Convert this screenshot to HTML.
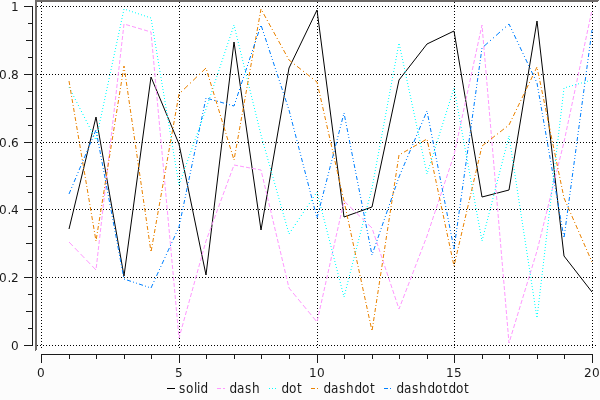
<!DOCTYPE html>
<html><head><meta charset="utf-8"><title>plot</title>
<style>
html,body{margin:0;padding:0;background:#fcfcfc;}
body{width:600px;height:400px;overflow:hidden;}
svg{display:block;position:absolute;left:0;top:0;}
text{font-family:"DejaVu Sans","Liberation Sans",sans-serif;font-size:13px;fill:#1a1a1a;}
</style></head><body>
<svg width="600" height="400" viewBox="0 0 600 400">

<rect x="0" y="0" width="600" height="400" fill="#fcfcfc"/>
<rect x="35" y="0" width="563" height="350" fill="#ffffff" shape-rendering="crispEdges"/>
<g fill="#6e6a68" shape-rendering="crispEdges"><rect x="35" y="0" width="564" height="1"/><rect x="35" y="1" width="563" height="1"/><rect x="35" y="0" width="1" height="351"/><rect x="36" y="0" width="1" height="350"/></g>
<g stroke="#000" stroke-width="1" stroke-dasharray="1 2" shape-rendering="crispEdges" fill="none">
<line x1="41.5" y1="2" x2="41.5" y2="349"/>
<line x1="179.5" y1="2" x2="179.5" y2="349"/>
<line x1="317.5" y1="2" x2="317.5" y2="349"/>
<line x1="454.5" y1="2" x2="454.5" y2="349"/>
<line x1="592.5" y1="2" x2="592.5" y2="349"/>
<line x1="37" y1="345.5" x2="597" y2="345.5"/>
<line x1="37" y1="277.5" x2="597" y2="277.5"/>
<line x1="37" y1="209.5" x2="597" y2="209.5"/>
<line x1="37" y1="142.5" x2="597" y2="142.5"/>
<line x1="37" y1="74.5" x2="597" y2="74.5"/>
<line x1="37" y1="6.5" x2="597" y2="6.5"/>
</g>
<g fill="none" stroke-linecap="butt">
<g stroke="#000000">
<line x1="69" y1="229" x2="96" y2="117" stroke-width="1.000"/>
<line x1="96" y1="117" x2="124" y2="276" stroke-width="1.000"/>
<line x1="124" y1="276" x2="151" y2="77" stroke-width="1.000"/>
<line x1="151" y1="77" x2="179" y2="144" stroke-width="1.000"/>
<line x1="179" y1="144" x2="206" y2="275" stroke-width="1.000"/>
<line x1="206" y1="275" x2="234" y2="42" stroke-width="1.000"/>
<line x1="234" y1="42" x2="261" y2="230" stroke-width="1.000"/>
<line x1="261" y1="230" x2="289" y2="68" stroke-width="1.000"/>
<line x1="289" y1="68" x2="317" y2="10" stroke-width="1.000"/>
<line x1="317" y1="10" x2="344" y2="217" stroke-width="1.000"/>
<line x1="344" y1="217" x2="372" y2="207" stroke-width="1.000"/>
<line x1="372" y1="207" x2="399" y2="80" stroke-width="1.000"/>
<line x1="399" y1="80" x2="427" y2="44" stroke-width="1.000"/>
<line x1="427" y1="44" x2="454" y2="31" stroke-width="1.000"/>
<line x1="454" y1="31" x2="482" y2="197" stroke-width="1.000"/>
<line x1="482" y1="197" x2="509" y2="190" stroke-width="1.000"/>
<line x1="509" y1="190" x2="537" y2="21" stroke-width="1.000"/>
<line x1="537" y1="21" x2="564" y2="256" stroke-width="1.000"/>
<line x1="564" y1="256" x2="592" y2="292" stroke-width="1.000"/>
</g>
<g stroke="#ff99ff">
<line x1="69" y1="242" x2="96" y2="270" stroke-width="1.000" stroke-dasharray="5.557 2.778" stroke-dashoffset="0.000"/>
<line x1="96" y1="270" x2="124" y2="24" stroke-width="1.000" stroke-dasharray="4.026 2.013" stroke-dashoffset="4.026"/>
<line x1="124" y1="24" x2="151" y2="32" stroke-width="1.000" stroke-dasharray="4.172 2.086" stroke-dashoffset="4.172"/>
<line x1="151" y1="32" x2="179" y2="338" stroke-width="1.000" stroke-dasharray="4.017 2.008" stroke-dashoffset="1.004"/>
<line x1="179" y1="338" x2="206" y2="241" stroke-width="1.000" stroke-dasharray="4.152 2.076" stroke-dashoffset="1.038"/>
<line x1="206" y1="241" x2="234" y2="165" stroke-width="1.000" stroke-dasharray="4.263 2.131" stroke-dashoffset="2.131"/>
<line x1="234" y1="165" x2="261" y2="170" stroke-width="1.000" stroke-dasharray="4.068 2.034" stroke-dashoffset="0.000"/>
<line x1="261" y1="170" x2="289" y2="288" stroke-width="1.000" stroke-dasharray="4.111 2.056" stroke-dashoffset="3.083"/>
<line x1="289" y1="288" x2="317" y2="322" stroke-width="1.000" stroke-dasharray="5.182 2.591" stroke-dashoffset="1.295"/>
<line x1="317" y1="322" x2="344" y2="201" stroke-width="1.000" stroke-dasharray="4.098 2.049" stroke-dashoffset="5.123"/>
<line x1="344" y1="201" x2="372" y2="228" stroke-width="1.000" stroke-dasharray="5.557 2.778" stroke-dashoffset="0.000"/>
<line x1="372" y1="228" x2="399" y2="309" stroke-width="1.000" stroke-dasharray="4.216 2.108" stroke-dashoffset="4.216"/>
<line x1="399" y1="309" x2="427" y2="236" stroke-width="1.000" stroke-dasharray="4.284 2.142" stroke-dashoffset="1.071"/>
<line x1="427" y1="236" x2="454" y2="155" stroke-width="1.000" stroke-dasharray="4.216 2.108" stroke-dashoffset="2.108"/>
<line x1="454" y1="155" x2="482" y2="25" stroke-width="1.000" stroke-dasharray="4.092 2.046" stroke-dashoffset="5.115"/>
<line x1="482" y1="25" x2="509" y2="343" stroke-width="1.000" stroke-dasharray="4.014 2.007" stroke-dashoffset="3.011"/>
<line x1="509" y1="343" x2="537" y2="251" stroke-width="1.000" stroke-dasharray="4.181 2.091" stroke-dashoffset="3.136"/>
<line x1="537" y1="251" x2="564" y2="142" stroke-width="1.000" stroke-dasharray="4.121 2.060" stroke-dashoffset="5.151"/>
<line x1="564" y1="142" x2="592" y2="10" stroke-width="1.000" stroke-dasharray="4.089 2.045" stroke-dashoffset="0.000"/>
</g>
<g stroke="#00ffff">
<line x1="69" y1="87" x2="96" y2="140" stroke-width="1.000" stroke-dasharray="1.122 2.245" stroke-dashoffset="0.000"/>
<line x1="96" y1="140" x2="124" y2="9" stroke-width="1.000" stroke-dasharray="1.023 2.045" stroke-dashoffset="2.045"/>
<line x1="124" y1="9" x2="151" y2="18" stroke-width="1.000" stroke-dasharray="1.054 2.108" stroke-dashoffset="1.054"/>
<line x1="151" y1="18" x2="179" y2="185" stroke-width="1.000" stroke-dasharray="1.014 2.028" stroke-dashoffset="1.014"/>
<line x1="179" y1="185" x2="206" y2="109" stroke-width="1.000" stroke-dasharray="1.061 2.122" stroke-dashoffset="0.000"/>
<line x1="206" y1="109" x2="234" y2="25" stroke-width="1.000" stroke-dasharray="1.054 2.108" stroke-dashoffset="1.054"/>
<line x1="234" y1="25" x2="261" y2="135" stroke-width="1.000" stroke-dasharray="1.030 2.059" stroke-dashoffset="1.030"/>
<line x1="261" y1="135" x2="289" y2="234" stroke-width="1.000" stroke-dasharray="1.039 2.078" stroke-dashoffset="0.000"/>
<line x1="289" y1="234" x2="317" y2="192" stroke-width="1.000" stroke-dasharray="1.202 2.404" stroke-dashoffset="0.000"/>
<line x1="317" y1="192" x2="344" y2="297" stroke-width="1.000" stroke-dasharray="1.033 2.065" stroke-dashoffset="0.000"/>
<line x1="344" y1="297" x2="372" y2="188" stroke-width="1.000" stroke-dasharray="1.032 2.065" stroke-dashoffset="0.000"/>
<line x1="372" y1="188" x2="399" y2="43" stroke-width="1.000" stroke-dasharray="1.017 2.034" stroke-dashoffset="1.017"/>
<line x1="399" y1="43" x2="427" y2="174" stroke-width="1.000" stroke-dasharray="1.023 2.045" stroke-dashoffset="2.045"/>
<line x1="427" y1="174" x2="454" y2="88" stroke-width="1.000" stroke-dasharray="1.048 2.096" stroke-dashoffset="1.048"/>
<line x1="454" y1="88" x2="482" y2="241" stroke-width="1.000" stroke-dasharray="1.017 2.033" stroke-dashoffset="0.000"/>
<line x1="482" y1="241" x2="509" y2="136" stroke-width="1.000" stroke-dasharray="1.033 2.065" stroke-dashoffset="0.000"/>
<line x1="509" y1="136" x2="537" y2="318" stroke-width="1.000" stroke-dasharray="1.012 2.024" stroke-dashoffset="0.000"/>
<line x1="537" y1="318" x2="564" y2="88" stroke-width="1.000" stroke-dasharray="1.007 2.014" stroke-dashoffset="2.014"/>
<line x1="564" y1="88" x2="592" y2="80" stroke-width="1.000" stroke-dasharray="1.040 2.080" stroke-dashoffset="1.040"/>
</g>
<g stroke="#ea8200">
<line x1="69" y1="81" x2="96" y2="241" stroke-width="1.000" stroke-dasharray="4.057 2.028 1.014 2.028" stroke-dashoffset="0.000"/>
<line x1="96" y1="241" x2="124" y2="66" stroke-width="1.000" stroke-dasharray="4.051 2.025 1.013 2.025" stroke-dashoffset="7.089"/>
<line x1="124" y1="66" x2="151" y2="252" stroke-width="1.000" stroke-dasharray="4.042 2.021 1.010 2.021" stroke-dashoffset="2.021"/>
<line x1="151" y1="252" x2="179" y2="94" stroke-width="1.000" stroke-dasharray="4.062 2.031 1.016 2.031" stroke-dashoffset="8.125"/>
<line x1="179" y1="94" x2="206" y2="68" stroke-width="1.000" stroke-dasharray="5.553 2.777 1.388 2.777" stroke-dashoffset="5.553"/>
<line x1="206" y1="68" x2="234" y2="160" stroke-width="1.000" stroke-dasharray="4.181 2.091 1.045 2.091" stroke-dashoffset="4.181"/>
<line x1="234" y1="160" x2="261" y2="9" stroke-width="1.000" stroke-dasharray="4.063 2.032 1.016 2.032" stroke-dashoffset="6.095"/>
<line x1="261" y1="9" x2="289" y2="60" stroke-width="1.000" stroke-dasharray="4.563 2.282 1.141 2.282" stroke-dashoffset="4.563"/>
<line x1="289" y1="60" x2="317" y2="82" stroke-width="1.000" stroke-dasharray="5.087 2.543 1.272 2.543" stroke-dashoffset="1.272"/>
<line x1="317" y1="82" x2="344" y2="201" stroke-width="1.000" stroke-dasharray="4.102 2.051 1.025 2.051" stroke-dashoffset="2.051"/>
<line x1="344" y1="201" x2="372" y2="331" stroke-width="1.000" stroke-dasharray="4.092 2.046 1.023 2.046" stroke-dashoffset="4.092"/>
<line x1="372" y1="331" x2="399" y2="155" stroke-width="1.000" stroke-dasharray="4.047 2.023 1.012 2.023" stroke-dashoffset="8.094"/>
<line x1="399" y1="155" x2="427" y2="139" stroke-width="1.000" stroke-dasharray="4.607 2.304 1.152 2.304" stroke-dashoffset="4.607"/>
<line x1="427" y1="139" x2="454" y2="266" stroke-width="1.000" stroke-dasharray="4.089 2.045 1.022 2.045" stroke-dashoffset="5.112"/>
<line x1="454" y1="266" x2="482" y2="146" stroke-width="1.000" stroke-dasharray="4.107 2.054 1.027 2.054" stroke-dashoffset="6.161"/>
<line x1="482" y1="146" x2="509" y2="125" stroke-width="1.000" stroke-dasharray="5.067 2.534 1.267 2.534" stroke-dashoffset="0.000"/>
<line x1="509" y1="125" x2="537" y2="67" stroke-width="1.000" stroke-dasharray="4.442 2.221 1.110 2.221" stroke-dashoffset="0.000"/>
<line x1="537" y1="67" x2="564" y2="198" stroke-width="1.000" stroke-dasharray="4.084 2.042 1.021 2.042" stroke-dashoffset="4.084"/>
<line x1="564" y1="198" x2="592" y2="262" stroke-width="1.000" stroke-dasharray="4.366 2.183 1.092 2.183" stroke-dashoffset="0.000"/>
</g>
<g stroke="#0080ff">
<line x1="69" y1="194" x2="96" y2="130" stroke-width="1.000" stroke-dasharray="4.341 2.171 1.085 2.171 1.085 2.171" stroke-dashoffset="0.000"/>
<line x1="96" y1="130" x2="124" y2="279" stroke-width="1.000" stroke-dasharray="4.070 2.035 1.018 2.035 1.018 2.035" stroke-dashoffset="4.070"/>
<line x1="124" y1="279" x2="151" y2="288" stroke-width="1.000" stroke-dasharray="4.216 2.108 1.054 2.108 1.054 2.108" stroke-dashoffset="9.487"/>
<line x1="151" y1="288" x2="179" y2="227" stroke-width="1.000" stroke-dasharray="4.401 2.201 1.100 2.201 1.100 2.201" stroke-dashoffset="0.000"/>
<line x1="179" y1="227" x2="206" y2="98" stroke-width="1.000" stroke-dasharray="4.087 2.043 1.022 2.043 1.022 2.043" stroke-dashoffset="1.022"/>
<line x1="206" y1="98" x2="234" y2="106" stroke-width="1.000" stroke-dasharray="4.160 2.080 1.040 2.080 1.040 2.080" stroke-dashoffset="10.400"/>
<line x1="234" y1="106" x2="261" y2="25" stroke-width="1.000" stroke-dasharray="4.216 2.108 1.054 2.108 1.054 2.108" stroke-dashoffset="2.108"/>
<line x1="261" y1="25" x2="289" y2="110" stroke-width="1.000" stroke-dasharray="4.211 2.106 1.053 2.106 1.053 2.106" stroke-dashoffset="11.581"/>
<line x1="289" y1="110" x2="317" y2="218" stroke-width="1.000" stroke-dasharray="4.132 2.066 1.033 2.066 1.033 2.066" stroke-dashoffset="0.000"/>
<line x1="317" y1="218" x2="344" y2="113" stroke-width="1.000" stroke-dasharray="4.130 2.065 1.033 2.065 1.033 2.065" stroke-dashoffset="0.000"/>
<line x1="344" y1="113" x2="372" y2="255" stroke-width="1.000" stroke-dasharray="4.077 2.039 1.019 2.039 1.019 2.039" stroke-dashoffset="9.173"/>
<line x1="372" y1="255" x2="399" y2="177" stroke-width="1.000" stroke-dasharray="4.233 2.116 1.058 2.116 1.058 2.116" stroke-dashoffset="7.408"/>
<line x1="399" y1="177" x2="427" y2="111" stroke-width="1.000" stroke-dasharray="4.345 2.173 1.086 2.173 1.086 2.173" stroke-dashoffset="1.086"/>
<line x1="427" y1="111" x2="454" y2="249" stroke-width="1.000" stroke-dasharray="4.076 2.038 1.019 2.038 1.019 2.038" stroke-dashoffset="7.133"/>
<line x1="454" y1="249" x2="482" y2="48" stroke-width="1.000" stroke-dasharray="4.039 2.019 1.010 2.019 1.010 2.019" stroke-dashoffset="1.010"/>
<line x1="482" y1="48" x2="509" y2="24" stroke-width="1.000" stroke-dasharray="5.352 2.676 1.338 2.676 1.338 2.676" stroke-dashoffset="13.380"/>
<line x1="509" y1="24" x2="537" y2="83" stroke-width="1.000" stroke-dasharray="4.428 2.214 1.107 2.214 1.107 2.214" stroke-dashoffset="1.107"/>
<line x1="537" y1="83" x2="564" y2="238" stroke-width="1.000" stroke-dasharray="4.060 2.030 1.015 2.030 1.015 2.030" stroke-dashoffset="0.000"/>
<line x1="564" y1="238" x2="592" y2="30" stroke-width="1.000" stroke-dasharray="4.036 2.018 1.009 2.018 1.009 2.018" stroke-dashoffset="11.099"/>
</g>
</g>
<g stroke="#1a1a1a" stroke-width="1" shape-rendering="crispEdges" fill="none">
<line x1="32.5" y1="6" x2="32.5" y2="346"/>
<line x1="24" y1="345.5" x2="33" y2="345.5"/>
<line x1="28" y1="328.5" x2="33" y2="328.5"/>
<line x1="26" y1="311.5" x2="33" y2="311.5"/>
<line x1="28" y1="294.5" x2="33" y2="294.5"/>
<line x1="24" y1="277.5" x2="33" y2="277.5"/>
<line x1="28" y1="260.5" x2="33" y2="260.5"/>
<line x1="26" y1="243.5" x2="33" y2="243.5"/>
<line x1="28" y1="226.5" x2="33" y2="226.5"/>
<line x1="24" y1="209.5" x2="33" y2="209.5"/>
<line x1="28" y1="192.5" x2="33" y2="192.5"/>
<line x1="26" y1="176.5" x2="33" y2="176.5"/>
<line x1="28" y1="159.5" x2="33" y2="159.5"/>
<line x1="24" y1="142.5" x2="33" y2="142.5"/>
<line x1="28" y1="125.5" x2="33" y2="125.5"/>
<line x1="26" y1="108.5" x2="33" y2="108.5"/>
<line x1="28" y1="91.5" x2="33" y2="91.5"/>
<line x1="24" y1="74.5" x2="33" y2="74.5"/>
<line x1="28" y1="57.5" x2="33" y2="57.5"/>
<line x1="26" y1="40.5" x2="33" y2="40.5"/>
<line x1="28" y1="23.5" x2="33" y2="23.5"/>
<line x1="24" y1="6.5" x2="33" y2="6.5"/>
<line x1="41" y1="354.5" x2="593" y2="354.5"/>
<line x1="41.5" y1="354" x2="41.5" y2="363"/>
<line x1="69.5" y1="354" x2="69.5" y2="359"/>
<line x1="96.5" y1="354" x2="96.5" y2="359"/>
<line x1="124.5" y1="354" x2="124.5" y2="359"/>
<line x1="151.5" y1="354" x2="151.5" y2="359"/>
<line x1="179.5" y1="354" x2="179.5" y2="363"/>
<line x1="206.5" y1="354" x2="206.5" y2="359"/>
<line x1="234.5" y1="354" x2="234.5" y2="359"/>
<line x1="261.5" y1="354" x2="261.5" y2="359"/>
<line x1="289.5" y1="354" x2="289.5" y2="359"/>
<line x1="317.5" y1="354" x2="317.5" y2="363"/>
<line x1="344.5" y1="354" x2="344.5" y2="359"/>
<line x1="372.5" y1="354" x2="372.5" y2="359"/>
<line x1="399.5" y1="354" x2="399.5" y2="359"/>
<line x1="427.5" y1="354" x2="427.5" y2="359"/>
<line x1="454.5" y1="354" x2="454.5" y2="363"/>
<line x1="482.5" y1="354" x2="482.5" y2="359"/>
<line x1="509.5" y1="354" x2="509.5" y2="359"/>
<line x1="537.5" y1="354" x2="537.5" y2="359"/>
<line x1="564.5" y1="354" x2="564.5" y2="359"/>
<line x1="592.5" y1="354" x2="592.5" y2="363"/>
</g>
<text transform="scale(0.93,1)" x="11.94" y="350.00">0</text>
<text transform="scale(0.93,1)" x="-0.97 8.17 11.94" y="282.00">0.2</text>
<text transform="scale(0.93,1)" x="-0.97 8.17 11.94" y="214.00">0.4</text>
<text transform="scale(0.93,1)" x="-0.97 8.17 11.94" y="147.00">0.6</text>
<text transform="scale(0.93,1)" x="-0.97 8.17 11.94" y="79.00">0.8</text>
<text transform="scale(0.93,1)" x="11.94" y="11.00">1</text>
<text transform="scale(0.93,1)" x="39.89" y="377.00">0</text>
<text transform="scale(0.93,1)" x="188.28" y="377.00">5</text>
<text transform="scale(0.93,1)" x="332.37 340.97" y="377.00">10</text>
<text transform="scale(0.93,1)" x="479.68 488.28" y="377.00">15</text>
<text transform="scale(0.93,1)" x="628.06 636.67" y="377.00">20</text>
<line x1="167" y1="388.5" x2="175" y2="388.5" stroke="#000000" stroke-width="1" shape-rendering="crispEdges"/>
<text transform="scale(0.93,1.06)" x="192.58 200.11 208.71 211.94 215.48" y="370.75">solid</text>
<line x1="217" y1="388.5" x2="225" y2="388.5" stroke="#ff99ff" stroke-width="1" stroke-dasharray="4 2" shape-rendering="crispEdges"/>
<text transform="scale(0.93,1.06)" x="246.67 254.95 263.55 271.08" y="370.75">dash</text>
<line x1="269" y1="388.5" x2="277" y2="388.5" stroke="#00ffff" stroke-width="1" stroke-dasharray="1 2" shape-rendering="crispEdges"/>
<text transform="scale(0.93,1.06)" x="302.58 310.86 319.46" y="370.75">dot</text>
<line x1="311" y1="388.5" x2="319" y2="388.5" stroke="#ea8200" stroke-width="1" stroke-dasharray="4 2 1 2" shape-rendering="crispEdges"/>
<text transform="scale(0.93,1.06)" x="347.74 356.02 364.62 372.15 381.08 389.35 397.96" y="370.75">dashdot</text>
<line x1="384" y1="388.5" x2="392" y2="388.5" stroke="#0080ff" stroke-width="1" stroke-dasharray="4 2 1 2 1 2" shape-rendering="crispEdges"/>
<text transform="scale(0.93,1.06)" x="426.24 434.52 443.12 450.65 459.57 467.85 476.45 482.15 490.43 499.03" y="370.75">dashdotdot</text>
</svg></body></html>
